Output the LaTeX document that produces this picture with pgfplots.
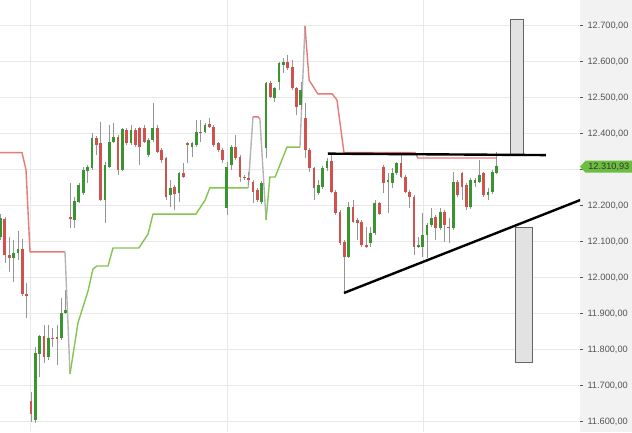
\documentclass[border=0pt]{standalone}
\usepackage{pgfplots}
\pgfplotsset{compat=1.18}
\usepackage{pgfplotstable}
\usepackage{fontspec}
\setmainfont{Liberation Sans}

\definecolor{cRed}{RGB}{208,82,78}
\definecolor{cGreen}{RGB}{58,148,50}
\definecolor{wick}{RGB}{150,150,150}
\definecolor{stRed}{RGB}{232,122,118}
\definecolor{stGreen}{RGB}{132,196,80}
\definecolor{stGrey}{RGB}{180,180,180}
\definecolor{gridc}{RGB}{232,232,232}
\definecolor{panel}{RGB}{242,242,242}
\definecolor{tag}{RGB}{108,190,64}
\definecolor{boxfill}{RGB}{226,226,226}
\definecolor{boxline}{RGB}{100,100,100}
\definecolor{lbl}{RGB}{85,85,85}

% candles: index, open, high, low, close
\pgfplotstableread{
i o h l c
1 12162 12168 12040 12062
2 12062 12112 12015 12054
5 12079 12107 11949 11954
6 11954 11985 11887 11949
7 11657 11682 11599 11621
10 11837 11868 11762 11779
12 11832 11860 11807 11829
13 11835 11868 11757 11829
16 12168 12262 12137 12162
22 12387 12393 12340 12368
23 12374 12432 12212 12215
27 12390 12396 12285 12299
29 12410 12415 12368 12374
31 12410 12415 12362 12368
32 12415 12418 12312 12362
33 12415 12424 12374 12376
36 12415 12424 12346 12349
37 12354 12360 12318 12326
38 12332 12335 12215 12224
40 12251 12257 12187 12232
42 12290 12318 12276 12279
43 12374 12376 12318 12368
46 12404 12437 12376 12401
48 12426 12443 12415 12418
49 12418 12424 12362 12368
50 12374 12376 12349 12354
51 12354 12360 12318 12326
54 12362 12396 12326 12332
55 12335 12340 12265 12279
56 12279 12285 12271 12276
57 12276 12293 12257 12271
58 12265 12271 12207 12237
59 12243 12249 12210 12215
62 12540 12546 12499 12501
66 12599 12618 12576 12582
67 12585 12604 12521 12526
68 12526 12529 12451 12474
70 12443 12485 12332 12354
71 12354 12360 12293 12304
72 12304 12307 12215 12249
76 12324 12346 12235 12237
77 12237 12243 12174 12179
78 12182 12187 12090 12096
79 12099 12104 11957 12057
81 12196 12215 12151 12154
82 12160 12165 12104 12151
83 12154 12160 12085 12090
84 12090 12140 12082 12085
87 12207 12210 12174 12176
88 12307 12312 12235 12262
92 12318 12346 12277 12279
93 12279 12285 12235 12237
94 12237 12243 12193 12224
95 12224 12229 12062 12085
100 12168 12174 12104 12137
102 12182 12187 12099 12146
103 12140 12165 12096 12137
105 12265 12271 12224 12229
106 12290 12293 12215 12251
107 12257 12262 12187 12196
111 12290 12293 12224 12229
}\redtab

\pgfplotstableread{
i o h l c
0 12112 12176 12104 12165
3 12054 12104 11987 12068
4 12068 12129 12049 12079
8 11604 11807 11596 11790
9 11787 11840 11724 11837
11 11779 11868 11771 11832
14 11832 11943 11826 11901
15 11901 11965 11899 11910
17 12160 12224 12137 12212
18 12210 12262 12207 12257
19 12235 12307 12229 12299
20 12296 12312 12262 12307
21 12304 12401 12299 12387
24 12215 12321 12151 12312
25 12307 12424 12305 12376
26 12376 12429 12374 12390
28 12299 12414 12297 12412
30 12374 12424 12368 12410
34 12340 12387 12335 12382
35 12382 12485 12376 12415
39 12229 12271 12196 12249
41 12235 12293 12210 12290
44 12362 12376 12335 12374
45 12368 12437 12362 12404
47 12404 12429 12401 12424
52 12193 12321 12174 12307
53 12312 12368 12299 12362
60 12210 12268 12204 12262
61 12360 12543 12332 12540
63 12499 12529 12487 12526
64 12543 12599 12521 12596
65 12590 12610 12568 12599
69 12479 12543 12465 12521
73 12235 12271 12229 12257
74 12251 12310 12246 12304
75 12304 12332 12296 12324
80 12057 12210 12054 12196
85 12096 12140 12085 12124
86 12124 12215 12118 12207
89 12265 12290 12179 12271
90 12262 12304 12249 12290
91 12290 12321 12285 12318
96 12085 12112 12082 12090
97 12085 12179 12057 12118
98 12118 12151 12054 12146
99 12146 12193 12140 12165
101 12137 12193 12132 12182
104 12137 12293 12132 12265
108 12196 12276 12190 12271
109 12262 12276 12251 12271
110 12265 12326 12262 12285
112 12229 12249 12215 12237
113 12237 12299 12232 12293
114 12290 12349 12287 12310.93
}\greentab

\begin{document}
\begin{tikzpicture}[x=1pt,y=1pt]
\useasboundingbox (0,0) rectangle (632,432);
\fill[panel] (580,0) rectangle (632,432);
\begin{axis}[
  at={(0,0)}, anchor=south west,
  width=580pt, height=432pt, scale only axis,
  xmin=-0.115, xmax=133.13,
  ymin=11570.8, ymax=12770.8,
  axis line style={draw=none},
  scaled x ticks=false, scaled y ticks=false,
  xtick={6.78,52.03,97.06}, xticklabel=\empty,
  x tick style={draw=none},
  xmajorgrids, ymajorgrids,
  grid style={gridc, line width=0.8pt},
  ytick={11600,11700,...,12700},
  yticklabels={{11.600,00},{11.700,00},{11.800,00},{11.900,00},{12.000,00},{12.100,00},{12.200,00},{},{12.400,00},{12.500,00},{12.600,00},{12.700,00}},
  ytick pos=right, yticklabel pos=right,
  tick align=outside, major tick length=3pt,
  y tick style={lbl, line width=0.6pt},
  yticklabel style={font=\fontsize{9.2}{11}\selectfont, text=lbl, anchor=west, xshift=1pt},
  candle/.style={draw=none, mark=none, forget plot,
    error bars/.cd, y dir=minus, y explicit, error mark=none},
]

% supertrend
\addplot[stRed, line width=1.4pt] coordinates {(-0.5,12347) (4.94,12347) (5.86,12299) (6.78,12071) (14.82,12071)};
\addplot[stGrey, line width=1.4pt] coordinates {(14.82,12071) (15.97,11732)};
\addplot[stGreen, line width=1.4pt] coordinates {(15.97,11732) (17.8,11874) (20.1,11962) (21.25,12024) (22.17,12032) (24.7,12032) (25.85,12082) (31.8,12082) (33.9,12121) (35.03,12176) (44.9,12176) (47.0,12215) (48.1,12249) (56.9,12249)};
\addplot[stGrey, line width=1.4pt] coordinates {(56.9,12249) (58.0,12446)};
\addplot[stRed, line width=1.4pt] coordinates {(58.0,12446) (59.2,12446) (59.6,12440)};
\addplot[stGrey, line width=1.4pt] coordinates {(59.6,12440) (61.0,12160)};
\addplot[stGreen, line width=1.4pt] coordinates {(61.0,12160) (61.9,12279) (63.1,12279) (65.8,12362) (68.8,12362)};
\addplot[stGrey, line width=1.4pt] coordinates {(68.8,12362) (69.95,12699)};
\addplot[stRed, line width=1.4pt] coordinates {(69.95,12699) (70.9,12548) (72.9,12510) (76.2,12510) (77.3,12493) (78.9,12347) (95.2,12347) (95.9,12332) (114.06,12332)};

% wicks
\addplot[candle, error bar style={line width=0.7pt, draw=wick, solid}]
  table[x=i, y=h, y error expr=\thisrow{h}-\thisrow{l}] {\redtab};
\addplot[candle, error bar style={line width=0.7pt, draw=wick, solid}]
  table[x=i, y=h, y error expr=\thisrow{h}-\thisrow{l}] {\greentab};

% bodies
\addplot[candle, error bar style={line width=2.8pt, draw=cRed, solid}]
  table[x=i, y=o, y error expr=\thisrow{o}-\thisrow{c}] {\redtab};
\addplot[candle, error bar style={line width=2.8pt, draw=cGreen, solid}]
  table[x=i, y=c, y error expr=\thisrow{c}-\thisrow{o}] {\greentab};

% target boxes
\addplot[fill=boxfill, draw=boxline, line width=0.8pt] coordinates {(117.2,12340) (120.1,12340) (120.1,12717) (117.2,12717) (117.2,12340)};
\addplot[fill=boxfill, draw=boxline, line width=0.8pt] coordinates {(118.2,12140) (122.2,12140) (122.2,11763) (118.2,11763) (118.2,12140)};

% triangle lines
\addplot[black, line width=2.4pt] coordinates {(75.2,12344) (125.3,12340)};
\addplot[black, line width=2.4pt] coordinates {(78.9,11957) (134,12219)};
\end{axis}

% last price tag
\fill[tag] (580,265.3) -- (585.5,271.3) -- (632,271.3) -- (632,259.3) -- (585.5,259.3) -- cycle;
\node[font=\fontsize{9.2}{11}\selectfont, text=black!80, anchor=east, inner sep=0pt] at (629.5,265.3) {12.310,93};
\end{tikzpicture}
\end{document}
